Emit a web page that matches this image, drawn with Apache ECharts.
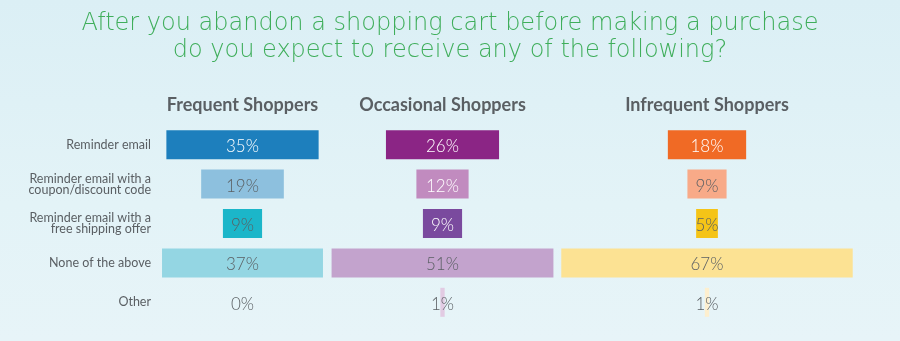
<!DOCTYPE html>
<html>
<head>
<meta charset="utf-8">
<script src="https://cdn.jsdelivr.net/npm/echarts@6/dist/echarts.min.js"></script>
<style>
  html, body { margin: 0; padding: 0; }
  body { background: linear-gradient(180deg, #dbeff5 0%, #e3f3f7 60%, #e7f4f8 100%); }
  #chart { width: 900px; height: 341px; }
</style>
</head>
<body>
<div id="chart"></div>
<script>
// Survey answers, top to bottom
const categories = [
  'Reminder email',
  'Reminder email with a\ncoupon/discount code',
  'Reminder email with a\nfree shipping offer',
  'None of the above',
  'Other'
];
// Shopper segments (one panel each)
const segments = ['Frequent Shoppers', 'Occasional Shoppers', 'Infrequent Shoppers'];
// Share of respondents (%) per answer
const frequentValues = [35, 19, 9, 37, 0];
const occasionalValues = [26, 12, 9, 51, 1];
const infrequentValues = [18, 9, 5, 67, 1];

const titleLines = [
  'After you abandon a shopping cart before making a purchase',
  'do you expect to receive any of the following?'
];

// Styling per panel
const panelCenters = [242.5, 442.5, 707];
const barColors = [
  ['#1d7fbd', '#8dc0de', '#1bb6c9', '#94d6e3', '#94d6e3'],
  ['#8b2585', '#c18bbf', '#7a4a9e', '#c3a3cd', '#e2cbe3'],
  ['#f06a25', '#f8aa88', '#f5c417', '#fce293', '#fdefcf']
];
const labelColors = [
  ['#ffffff', '#5a5f63', '#5a5f63', '#5a5f63', '#5a5f63'],
  ['#ffffff', '#ffffff', '#ffffff', '#5a5f63', '#5a5f63'],
  ['#ffffff', '#5a5f63', '#5a5f63', '#5a5f63', '#5a5f63']
];
const seriesValues = [frequentValues, occasionalValues, infrequentValues];

const PX_PER_UNIT = 4.35;   // horizontal scale shared by all panels
const HALF_RANGE = 35;      // each panel spans -35..35 around its centre
const GRID_TOP = 125;
const GRID_HEIGHT = 197;
const BAR_HEIGHT = 29;
const FONT = 'Lato, "Liberation Sans", sans-serif';
const TITLE_FONT = '"DejaVu Sans", Lato, sans-serif';

const chart = echarts.init(document.getElementById('chart'), null, { renderer: 'canvas' });

const grids = [];
const xAxes = [];
const yAxes = [];
const series = [];

panelCenters.forEach((cx, i) => {
  const w = HALF_RANGE * 2 * PX_PER_UNIT;
  grids.push({ left: cx - w / 2, top: GRID_TOP, width: w, height: GRID_HEIGHT });
  xAxes.push({ gridIndex: i, type: 'value', min: -HALF_RANGE, max: HALF_RANGE, show: false });
  yAxes.push({ gridIndex: i, type: 'category', data: categories, inverse: true, show: false });
  const colors = barColors[i];
  const txtColors = labelColors[i];
  series.push({
    type: 'custom',
    xAxisIndex: i,
    yAxisIndex: i,
    encode: { x: 1, y: 0 },
    data: seriesValues[i].map((v, k) => [k, v]),
    renderItem: function (params, api) {
      const k = api.value(0);
      const v = api.value(1);
      const a = api.coord([-v / 2, k]);
      const b = api.coord([v / 2, k]);
      const mid = api.coord([0, k]);
      return {
        type: 'group',
        children: [
          {
            type: 'rect',
            shape: { x: a[0], y: a[1] - BAR_HEIGHT / 2, width: b[0] - a[0], height: BAR_HEIGHT },
            style: { fill: colors[k] }
          },
          {
            type: 'text',
            x: mid[0],
            y: mid[1] + 2,
            style: {
              text: v + '%',
              fill: txtColors[k],
              font: '300 17px ' + FONT,
              textAlign: 'center',
              textVerticalAlign: 'middle'
            }
          }
        ]
      };
    }
  });
});

// Grid that only carries the answer labels on the left
grids.push({ left: 151, top: GRID_TOP, width: 10, height: GRID_HEIGHT });
xAxes.push({ gridIndex: 3, type: 'value', show: false });
yAxes.push({
  gridIndex: 3,
  type: 'category',
  data: categories,
  inverse: true,
  axisLine: { show: false },
  axisTick: { show: false },
  axisLabel: {
    margin: 0,
    color: '#5a5f63',
    fontFamily: FONT,
    fontSize: 12.5,
    lineHeight: 11,
    align: 'right'
  }
});

const graphics = [
  {
    type: 'text',
    left: 'center',
    top: 10,
    style: {
      text: titleLines.join('\n'),
      fill: '#3fae5b',
      font: '200 24px ' + TITLE_FONT,
      lineHeight: 27,
      textAlign: 'center'
    }
  }
];
segments.forEach((name, i) => {
  graphics.push({
    type: 'text',
    x: panelCenters[i],
    y: 105,
    style: {
      text: name,
      fill: '#5a5f63',
      font: 'bold 18px ' + FONT,
      textAlign: 'center',
      textVerticalAlign: 'middle'
    }
  });
});

chart.setOption({
  backgroundColor: 'transparent',
  animation: false,
  grid: grids,
  xAxis: xAxes,
  yAxis: yAxes,
  series: series,
  graphic: graphics
});
</script>
</body>
</html>
